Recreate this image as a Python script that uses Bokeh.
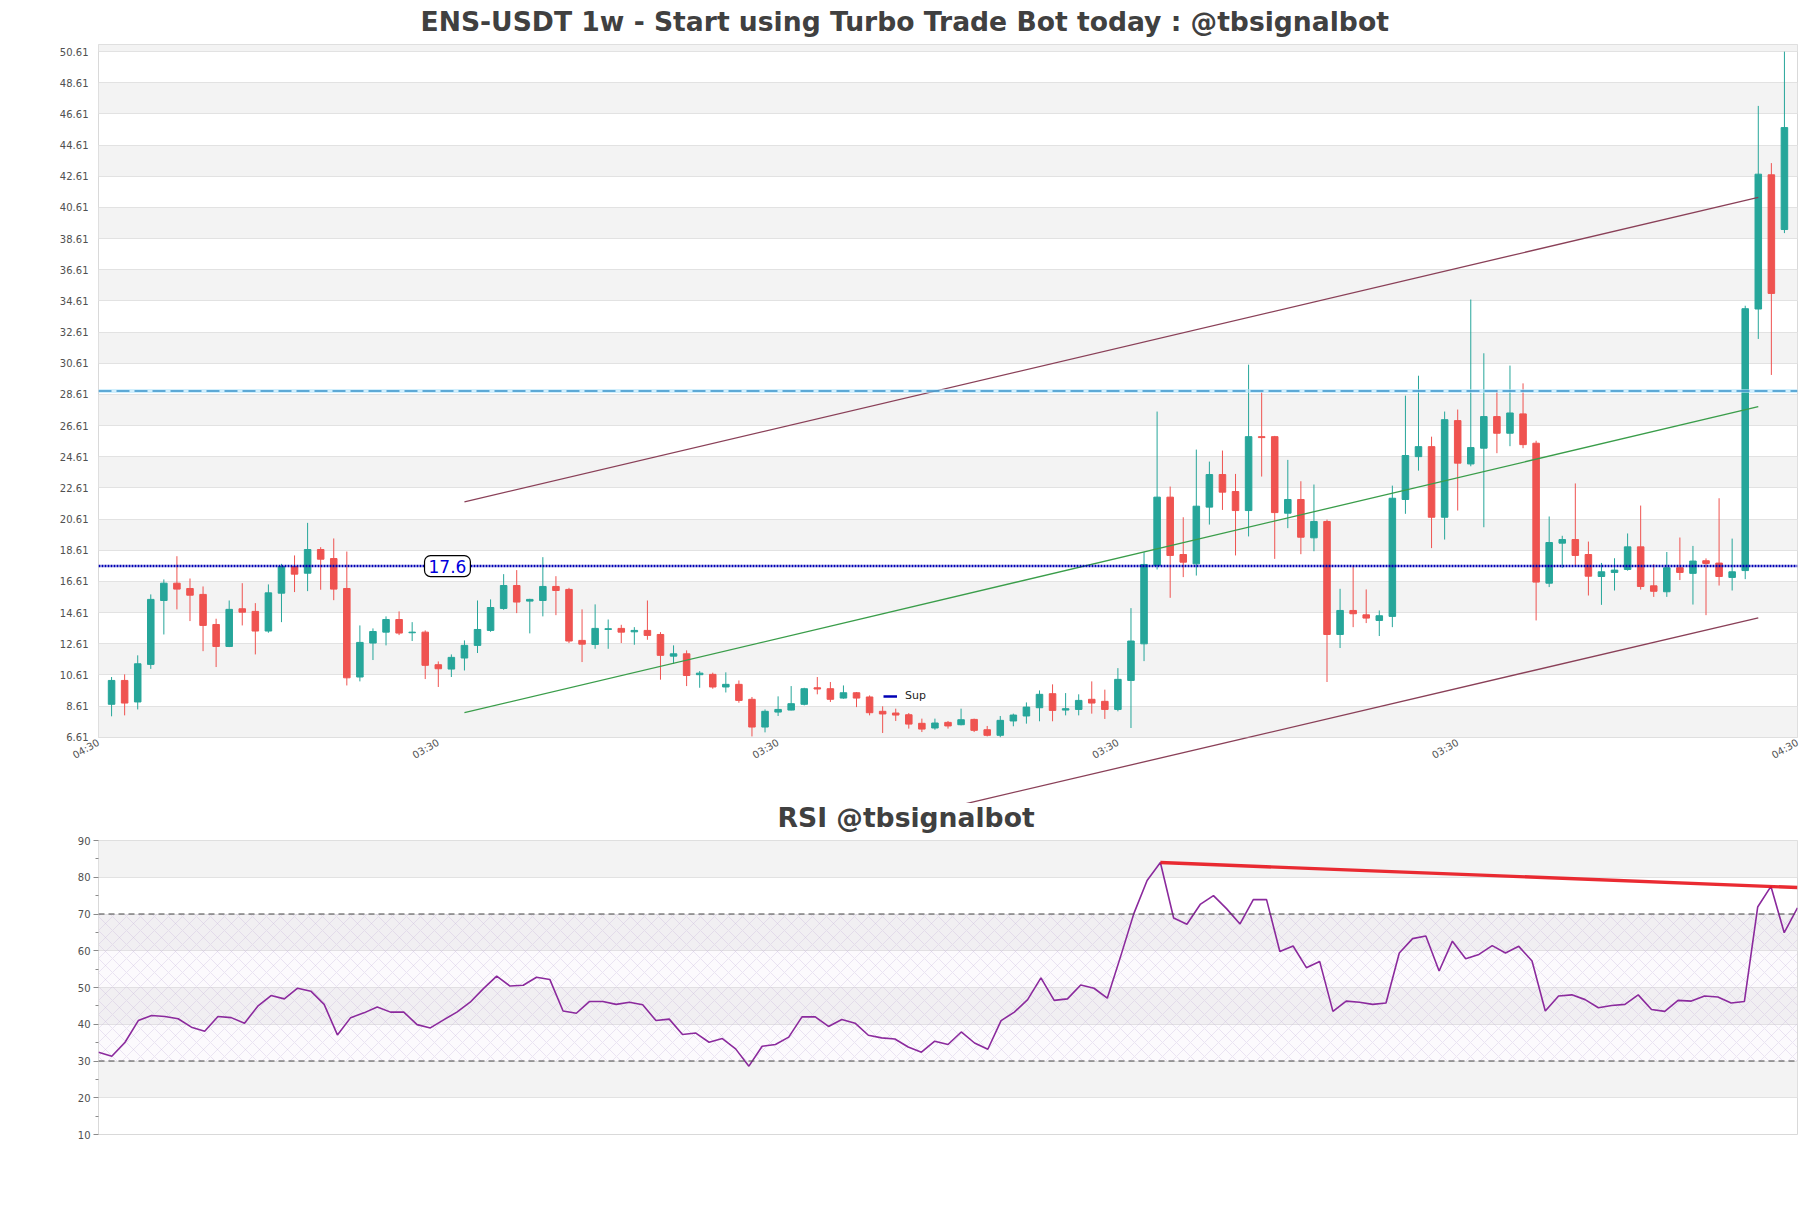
import math
import numpy as np
from bokeh.plotting import figure
from bokeh.layouts import column
from bokeh.models import (ColumnDataSource, Range1d, FixedTicker, NumeralTickFormatter,
                          Span, Label, Legend, LegendItem, BoxAnnotation, Title)
from bokeh.embed import file_html
from bokeh.resources import INLINE

# ---------------- data (weekly candles) ----------------
opens = [8.73, 10.26, 8.88, 11.29, 15.39, 16.50, 16.16, 15.78, 13.85, 12.44,
         14.86, 14.69, 13.43, 15.86, 17.57, 17.14, 18.66, 18.08, 16.16, 10.48,
         12.66, 13.36, 14.17, 13.32, 13.36, 11.27, 10.99, 11.70, 12.51, 13.47,
         14.88, 16.35, 15.35, 15.39, 16.29, 16.10, 12.83, 12.57, 13.53, 13.60,
         13.38, 13.47, 13.21, 11.82, 11.97, 10.63, 10.65, 9.84, 10.01, 9.05,
         7.27, 8.23, 8.36, 8.73, 9.79, 9.73, 9.13, 9.47, 9.20, 8.28,
         8.17, 8.06, 7.51, 7.21, 7.57, 7.42, 7.76, 7.10, 6.74, 7.66,
         7.98, 8.51, 9.41, 8.36, 8.40, 9.05, 8.92, 8.40, 10.26, 12.61,
         17.64, 22.02, 18.34, 17.74, 21.38, 23.47, 22.38, 21.16, 25.90, 25.90,
         20.99, 21.87, 19.41, 20.46, 13.21, 14.75, 14.47, 14.11, 14.37, 21.87,
         24.62, 25.26, 20.73, 26.93, 24.15, 25.16, 27.19, 26.12, 27.36, 25.48,
         16.50, 19.07, 19.30, 18.34, 16.93, 17.19, 17.38, 18.83, 16.33, 15.95,
         17.49, 17.13, 17.94, 17.79, 16.87, 17.31, 34.09, 42.70, 39.19]
highs = [10.48, 10.65, 11.87, 15.78, 16.74, 18.23, 16.80, 16.29, 14.22, 15.39,
         16.50, 15.22, 16.42, 17.74, 18.28, 20.37, 18.81, 19.37, 18.53, 13.79,
         13.60, 14.37, 14.69, 14.00, 13.47, 11.48, 11.93, 12.83, 15.39, 15.46,
         17.08, 17.34, 15.50, 18.17, 16.95, 16.20, 14.82, 15.14, 14.17, 13.83,
         13.68, 15.39, 13.36, 12.51, 12.19, 10.86, 10.76, 10.78, 10.26, 9.20,
         8.40, 9.24, 9.90, 9.79, 10.48, 10.16, 9.94, 9.52, 9.30, 8.60,
         8.45, 8.17, 7.81, 7.81, 7.66, 8.45, 7.81, 7.34, 7.98, 8.13,
         8.85, 9.62, 10.01, 9.45, 9.37, 10.20, 9.67, 11.05, 14.90, 18.49,
         27.51, 22.70, 20.73, 25.07, 24.30, 25.01, 23.51, 30.52, 28.75, 25.95,
         24.41, 23.04, 22.83, 20.58, 16.14, 17.59, 16.10, 14.75, 22.76, 28.53,
         29.81, 25.90, 27.51, 27.64, 34.70, 31.25, 28.90, 30.46, 29.32, 25.64,
         20.78, 19.54, 22.90, 19.17, 17.80, 18.10, 19.69, 21.48, 17.72, 18.50,
         19.43, 18.89, 18.09, 21.95, 19.36, 34.30, 47.12, 43.45, 50.60]
lows = [7.96, 8.02, 8.40, 11.00, 13.21, 14.82, 14.07, 12.14, 11.12, 12.40,
        13.79, 11.93, 13.32, 14.00, 15.93, 15.99, 16.08, 15.41, 9.94, 10.20,
        11.57, 12.51, 13.17, 12.79, 10.35, 9.84, 10.48, 10.90, 12.02, 13.38,
        14.79, 14.58, 13.28, 14.37, 14.45, 12.66, 11.44, 12.29, 12.29, 12.66,
        12.55, 12.87, 10.31, 11.33, 9.90, 9.79, 9.73, 9.49, 8.83, 6.67,
        6.93, 7.98, 8.34, 8.66, 9.37, 8.88, 9.09, 8.55, 8.02, 6.89,
        7.66, 7.17, 6.95, 7.10, 7.17, 7.38, 6.95, 6.67, 6.61, 7.32,
        7.49, 7.64, 7.64, 8.02, 8.02, 8.13, 7.79, 8.28, 7.21, 11.50,
        17.38, 15.56, 16.89, 16.99, 20.26, 21.20, 18.28, 19.50, 23.34, 18.06,
        20.03, 18.36, 18.55, 10.16, 12.34, 13.68, 13.94, 13.11, 13.68, 20.95,
        23.72, 18.75, 19.30, 21.16, 24.00, 20.09, 24.84, 25.29, 25.16, 14.11,
        16.25, 17.47, 17.60, 15.71, 15.11, 16.03, 17.30, 16.09, 15.62, 15.62,
        16.70, 15.13, 14.45, 16.35, 16.03, 16.76, 32.17, 29.86, 38.96]
closes = [10.26, 8.81, 11.33, 15.46, 16.50, 16.12, 15.73, 13.79, 12.44, 14.82,
          14.64, 13.43, 15.88, 17.57, 17.08, 18.66, 18.04, 16.12, 10.43, 12.70,
          13.40, 14.17, 13.30, 13.36, 11.23, 11.01, 11.74, 12.51, 13.53, 14.94,
          16.35, 15.29, 15.46, 16.29, 16.03, 12.79, 12.59, 13.60, 13.58, 13.36,
          13.47, 13.15, 11.87, 11.97, 10.58, 10.73, 9.84, 10.01, 8.98, 7.27,
          8.28, 8.40, 8.77, 9.73, 9.71, 9.05, 9.47, 9.13, 8.19, 8.11,
          8.04, 7.46, 7.14, 7.53, 7.34, 7.74, 7.06, 6.74, 7.70, 8.04,
          8.55, 9.37, 8.34, 8.45, 8.98, 8.81, 8.40, 10.33, 12.79, 17.70,
          22.02, 18.28, 17.85, 21.44, 23.47, 22.34, 21.16, 25.90, 25.84, 21.03,
          21.87, 19.45, 20.46, 13.21, 14.75, 14.54, 14.26, 14.41, 21.95, 24.69,
          25.26, 20.73, 26.99, 24.20, 25.20, 27.19, 26.12, 27.42, 25.39, 16.57,
          19.11, 19.30, 18.28, 16.95, 17.23, 17.34, 18.83, 16.29, 15.98, 17.49,
          17.19, 17.92, 17.77, 16.93, 17.23, 34.11, 42.74, 35.09, 45.73]
rsi = [32.4, 31.3, 35.1, 41.0, 42.4, 42.1, 41.5, 39.2, 38.1, 42.1,
       41.8, 40.3, 44.9, 47.8, 46.9, 49.8, 49.0, 45.4, 37.1, 41.8,
       43.1, 44.7, 43.3, 43.3, 39.9, 39.0, 41.2, 43.3, 46.0, 49.7,
       53.1, 50.4, 50.6, 52.8, 52.2, 43.6, 43.0, 46.2, 46.2, 45.4,
       46.0, 45.3, 41.0, 41.4, 37.2, 37.6, 35.1, 36.1, 33.3, 28.6,
       34.0, 34.5, 36.5, 42.0, 42.0, 39.4, 41.3, 40.3, 37.0, 36.3,
       36.0, 33.8, 32.4, 35.4, 34.5, 37.9, 34.9, 33.2, 41.0, 43.3,
       46.7, 52.6, 46.5, 46.9, 50.7, 49.8, 47.1, 58.4, 70.1, 79.1,
       84.0, 68.9, 67.2, 72.6, 75.0, 71.4, 67.3, 73.9, 73.9, 59.8,
       61.3, 55.4, 57.1, 43.5, 46.3, 46.0, 45.4, 45.8, 59.4, 63.3,
       64.0, 54.5, 62.6, 57.8, 59.0, 61.4, 59.4, 61.2, 57.2, 43.6,
       47.7, 48.0, 46.7, 44.5, 45.1, 45.4, 48.0, 44.0, 43.5, 46.5,
       46.3, 47.7, 47.4, 45.8, 46.2, 71.9, 77.5, 64.9, 71.7]

xtick_pos = [-1, 25, 51, 77, 103, 129]
xtick_labels = ["04:30", "03:30", "03:30", "03:30", "03:30", "04:30"]
price_ticks = [round(6.61 + 2 * k, 2) for k in range(23)]
rsi_ticks = [10, 20, 30, 40, 50, 60, 70, 80, 90]
rsi_minor = [15, 25, 35, 45, 55, 65, 75, 85]

sup_level = 17.6
sup_text = "17.6"
res_level = 28.83
rsi_levels = [30, 70]

upper_x, upper_y = [27, 126], [21.72, 41.25]
mid_x, mid_y = [27, 126], [8.19, 27.83]
lower_x, lower_y = [27, 126], [-5.19, 14.28]
div_x, div_y = [80, 128], [84.0, 77.2]

# ---------------- styling ----------------
UP, DOWN = "#26a69a", "#ef5350"
FONT = "DejaVu Sans"
LABEL_COLOR = "#505050"
CHAN = "#8a4058"
SUP_COLOR = "#0000b4"
TITLE_SIZE = "26.6px"

W = 1811
MAIN_H, MAIN_TOP, MAIN_BOTTOM = 803, 44, 66
MAIN_LIFT = 6
Y0, Y1 = 6.6, 51.06

n = len(opens)
idx = np.arange(n)
o = np.array(opens)
c = np.array(closes)
src = ColumnDataSource(dict(
    x=idx, high=highs, low=lows,
    top=np.maximum(o, c), bottom=np.minimum(o, c),
    color=[UP if cc >= oo else DOWN for oo, cc in zip(opens, closes)],
))

main_title = Title(text="ENS-USDT 1w - Start using Turbo Trade Bot today : @tbsignalbot",
                   align="left", offset=322, text_font=FONT, text_font_size=TITLE_SIZE,
                   text_font_style="bold", text_color="#404040", standoff=15)

p = figure(width=W, height=MAIN_H + MAIN_LIFT, x_range=Range1d(-1, 129),
           y_range=Range1d(Y0, Y1),
           output_backend="svg", toolbar_location=None, title=main_title,
           min_border_left=98, min_border_right=14, min_border_top=MAIN_TOP + MAIN_LIFT,
           min_border_bottom=MAIN_BOTTOM,
           background_fill_color="white", border_fill_color="white",
           outline_line_color="#d9d9d9", outline_line_width=1,
           margin=(-MAIN_LIFT, 0, 0, 0))

p.xgrid.visible = False
p.ygrid.grid_line_color = "#e2e2e2"
p.ygrid.band_fill_color = "#f3f3f3"
p.ygrid.band_fill_alpha = 1.0

p.yaxis.ticker = FixedTicker(ticks=price_ticks)
p.yaxis.formatter = NumeralTickFormatter(format="0.00")
p.xaxis.ticker = FixedTicker(ticks=xtick_pos)
p.xaxis.major_label_overrides = {pos: lab for pos, lab in zip(xtick_pos, xtick_labels)}
p.xaxis.major_label_orientation = math.radians(30)
for ax in (p.xaxis, p.yaxis):
    ax.axis_line_color = None
    ax.major_tick_line_color = None
    ax.minor_tick_line_color = None
    ax.major_tick_out = 0
    ax.major_label_text_font = FONT
    ax.major_label_text_font_size = "10px"
    ax.major_label_text_color = LABEL_COLOR
p.yaxis.major_label_standoff = 10
p.xaxis.major_label_standoff = 4

# candles
p.segment(x0="x", y0="low", x1="x", y1="high", line_color="color", line_width=1, source=src)
p.vbar(x="x", width=0.5, top="top", bottom="bottom", fill_color="color",
       line_color="color", line_width=1, source=src)

# channel lines
p.line(upper_x, upper_y, line_color=CHAN, line_width=1.3)
p.line(mid_x, mid_y, line_color="#3a9d4a", line_width=1.3)
p.line(lower_x, lower_y, line_color=CHAN, line_width=1.3)

# resistance dashed line
p.add_layout(Span(location=res_level, dimension="width", line_color="#b3e5fc",
                  line_width=4, line_alpha=0.6))
p.add_layout(Span(location=res_level, dimension="width", line_color="#3793c9",
                  line_width=1.5, line_dash="13 5"))

# support line
p.add_layout(Span(location=sup_level, dimension="width", line_color=SUP_COLOR,
                  line_width=2.6, line_dash="2 1"))
sup_legend_r = p.line(x=[np.nan], y=[np.nan], line_color=SUP_COLOR, line_width=2.5)
legend = Legend(items=[LegendItem(label="Sup", renderers=[sup_legend_r])],
                location=(781, 31), background_fill_color="white", background_fill_alpha=1,
                border_line_alpha=0, padding=4, margin=0, spacing=0,
                glyph_width=14, glyph_height=12, label_height=12, label_standoff=8,
                label_text_font=FONT, label_text_font_size="11px", label_text_color="#222222")
p.add_layout(legend)

p.add_layout(Label(x=25.7, y=sup_level, text=sup_text, text_align="center",
                   text_baseline="middle", text_font=FONT, text_font_size="17px",
                   text_color="#0000dd", background_fill_color="white",
                   border_line_color="black", border_line_width=1.2, border_radius=6,
                   padding=4))

# transparent strip under the price frame, continuing the price scale downwards,
# so the lower channel line can run past the frame as in the original
frame_h = MAIN_H - MAIN_TOP - MAIN_BOTTOM
ppu = frame_h / (Y1 - Y0)
strip = figure(width=W, height=MAIN_BOTTOM, x_range=p.x_range,
               y_range=Range1d(Y0 - MAIN_BOTTOM / ppu, Y0),
               output_backend="svg", toolbar_location=None, title=None,
               x_axis_type=None, y_axis_type=None,
               min_border_left=98, min_border_right=14, min_border_top=0, min_border_bottom=0,
               background_fill_color=None, border_fill_color=None, outline_line_color=None,
               margin=(-MAIN_BOTTOM, 0, 0, 0))
strip.line(lower_x, lower_y, line_color=CHAN, line_width=1.3)

# ---------------- RSI ----------------
RSI_LIFT = 13
rsi_title = Title(text="RSI @tbsignalbot", align="left", offset=679, text_font=FONT,
                  text_font_size=TITLE_SIZE, text_font_style="bold", text_color="#404040",
                  standoff=16)
p2 = figure(width=W, height=405 + RSI_LIFT, x_range=Range1d(0, n - 1), y_range=Range1d(10, 90),
            output_backend="svg", toolbar_location=None, title=rsi_title,
            min_border_left=98, min_border_right=14, min_border_top=37 + RSI_LIFT,
            min_border_bottom=74,
            background_fill_color="white", border_fill_color=None,
            outline_line_color="#d9d9d9", outline_line_width=1,
            margin=(-RSI_LIFT, 0, 0, 0))
p2.xaxis.visible = False
p2.xgrid.visible = False
p2.ygrid.grid_line_color = "#e2e2e2"
p2.ygrid.band_fill_color = "#f3f3f3"
p2.ygrid.band_fill_alpha = 1.0
p2.yaxis.ticker = FixedTicker(ticks=rsi_ticks, minor_ticks=rsi_minor)
p2.yaxis.axis_line_color = None
p2.yaxis.major_tick_line_color = "#8a8a8a"
p2.yaxis.minor_tick_line_color = "#8a8a8a"
p2.yaxis.major_tick_out = 5
p2.yaxis.major_tick_in = 0
p2.yaxis.minor_tick_out = 3
p2.yaxis.minor_tick_in = 0
p2.yaxis.major_label_standoff = 3
p2.yaxis.major_label_text_font = FONT
p2.yaxis.major_label_text_font_size = "10px"
p2.yaxis.major_label_text_color = LABEL_COLOR

p2.add_layout(BoxAnnotation(bottom=rsi_levels[0], top=rsi_levels[1], level="underlay",
                            fill_color="#e4d8f0", fill_alpha=0.12, line_alpha=0,
                            hatch_pattern="diagonal_cross", hatch_color="#c6b3da",
                            hatch_alpha=0.55, hatch_scale=14, hatch_weight=0.6))
for lv in rsi_levels:
    p2.add_layout(Span(location=lv, dimension="width", line_color="#444444",
                       line_width=1.2, line_dash="6 4"))

p2.line(idx, rsi, line_color="#8b2a9d", line_width=1.6)
p2.line(div_x, div_y, line_color="#e8141c", line_width=3.4, line_alpha=0.9)

layout = column(p, strip, p2)
open("out.html", "w").write(file_html(layout, INLINE))
